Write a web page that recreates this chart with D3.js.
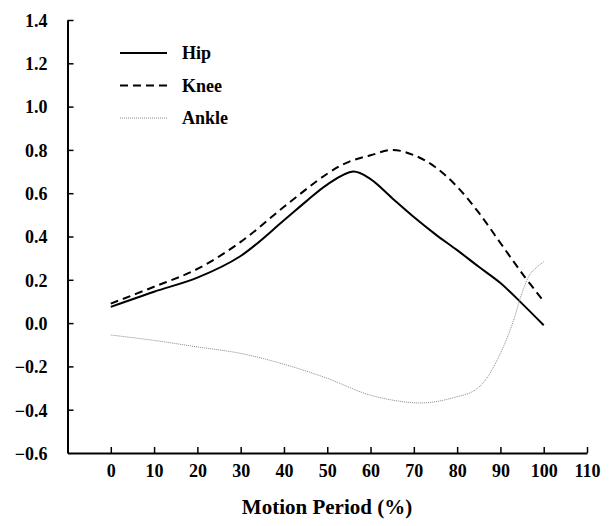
<!DOCTYPE html>
<html>
<head>
<meta charset="utf-8">
<script src="https://cdn.jsdelivr.net/npm/d3@7"></script>
<style>
  body { margin: 0; background: #fff; }
  text { font-family: "Liberation Serif", "Times New Roman", serif; font-weight: bold; fill: #000; }
</style>
</head>
<body>
<div id="chart"></div>
<script>
// values
var hipX = [0, 10, 20, 30, 40, 45, 50, 56, 60, 65, 70, 75, 80, 85, 90, 95, 100];
var hipY = [0.075, 0.145, 0.21, 0.31, 0.475, 0.56, 0.64, 0.70, 0.665, 0.577, 0.49, 0.41, 0.337, 0.26, 0.185, 0.09, -0.01];

var kneeX = [0, 10, 20, 30, 40, 50, 55, 60, 65, 70, 75, 80, 85, 90, 95, 100];
var kneeY = [0.09, 0.168, 0.25, 0.375, 0.537, 0.69, 0.745, 0.775, 0.80, 0.776, 0.72, 0.63, 0.51, 0.37, 0.23, 0.10];

var ankleX = [0, 10, 20, 30, 40, 50, 60, 70, 75, 80, 83, 85, 87, 89, 91, 93, 95, 97, 100];
var ankleY = [-0.055, -0.08, -0.11, -0.14, -0.19, -0.255, -0.333, -0.368, -0.363, -0.34, -0.322, -0.296, -0.25, -0.18, -0.095, 0.01, 0.14, 0.23, 0.283];

var xTicks = [0, 10, 20, 30, 40, 50, 60, 70, 80, 90, 100, 110];
var yTicks = [-0.6, -0.4, -0.2, 0.0, 0.2, 0.4, 0.6, 0.8, 1.0, 1.2, 1.4];

var seriesNames = ["Hip", "Knee", "Ankle"];

var width = 611, height = 526;
var mLeft = 67.5, mRight = 587, mTop = 20, mBottom = 453;

var svg = d3.select("#chart").append("svg")
  .attr("width", width)
  .attr("height", height);

var x = d3.scaleLinear().domain([-10, 110]).range([mLeft, mRight]);
var y = d3.scaleLinear().domain([-0.6, 1.4]).range([mBottom, mTop]);

// y axis: ticks point inward, labels on the left
var yAxis = d3.axisLeft(y)
  .tickValues(yTicks)
  .tickSizeInner(-6)
  .tickSizeOuter(0)
  .tickPadding(20)
  .tickFormat(d3.format(".1f"));

var gy = svg.append("g")
  .attr("transform", "translate(" + mLeft + ",0)")
  .call(yAxis);
gy.selectAll("text").style("font-size", "18px").attr("dy", "0.35em");
gy.selectAll(".tick").filter(function(d) { return d === -0.6; }).select("line").remove();

// x axis: ticks point up
var xAxis = d3.axisBottom(x)
  .tickValues(xTicks)
  .tickSizeInner(-6)
  .tickSizeOuter(0)
  .tickPadding(11);

var gx = svg.append("g")
  .attr("transform", "translate(0," + mBottom + ")")
  .call(xAxis);
gx.selectAll("text").style("font-size", "18px");

svg.selectAll(".domain").attr("stroke", "#000").attr("stroke-width", 2);
svg.selectAll(".tick line").attr("stroke", "#000").attr("stroke-width", 1.5);

svg.append("text")
  .attr("x", 327)
  .attr("y", 514)
  .attr("text-anchor", "middle")
  .style("font-size", "21px")
  .text("Motion Period (%)");

var line = d3.line()
  .x(function(d) { return x(d[0]); })
  .y(function(d) { return y(d[1]); })
  .curve(d3.curveCatmullRom.alpha(0.5));

var styles = [
  { stroke: "#000", width: 2, dash: null },
  { stroke: "#000", width: 2, dash: "8,5" },
  { stroke: "#888", width: 1, dash: "1,1" }
];

var sets = [d3.zip(hipX, hipY), d3.zip(kneeX, kneeY), d3.zip(ankleX, ankleY)];

sets.forEach(function(pts, i) {
  svg.append("path")
    .attr("d", line(pts))
    .attr("fill", "none")
    .attr("stroke", styles[i].stroke)
    .attr("stroke-width", styles[i].width)
    .attr("stroke-dasharray", styles[i].dash);
});

// legend
var legend = svg.append("g");
seriesNames.forEach(function(name, i) {
  var ly = 53 + i * 32.5;
  legend.append("line")
    .attr("x1", 120).attr("x2", 167)
    .attr("y1", ly).attr("y2", ly)
    .attr("stroke", styles[i].stroke)
    .attr("stroke-width", styles[i].width)
    .attr("stroke-dasharray", styles[i].dash);
  legend.append("text")
    .attr("x", 182)
    .attr("y", ly)
    .attr("dy", "0.35em")
    .style("font-size", "18px")
    .text(name);
});
</script>
</body>
</html>
